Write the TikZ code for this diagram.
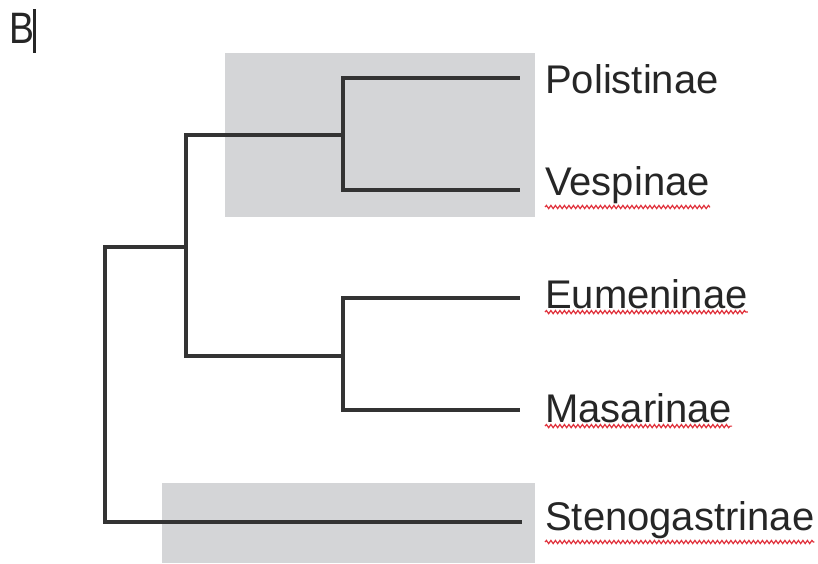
\documentclass[tikz,border=0pt]{standalone}
\usepackage{fontspec}
\setmainfont{Liberation Sans}
\usepackage{tikz}
\usetikzlibrary{positioning, calc, decorations.pathmorphing}
\definecolor{shade}{HTML}{D4D5D7}
\definecolor{branchcol}{HTML}{333333}
\definecolor{spellred}{HTML}{E0303A}

\begin{document}
\begin{tikzpicture}[x=1pt, y=-1pt,
		branch/.style={draw=branchcol, line width=3.2pt, line cap=rect, line join=miter},
		taxon/.style={anchor=base west, inner sep=0pt, font=\fontsize{40}{48}\selectfont, text=black!85},
		squiggle/.style={draw=spellred, line width=1.2pt, decorate, decoration={snake, segment length=4.5pt, amplitude=1.6pt}},
		box/.style={fill=shade, draw=none}]
			\useasboundingbox (0,0) rectangle (818,563);
			% shaded clades
			\fill[box] (225,53) rectangle (535,217);
			\fill[box] (162,483) rectangle (535,563);
			% panel letter with cursor
			\node[taxon, font=\fontsize{44}{48}\selectfont, xscale=0.85] (lblB) at (9,43) {B};
			\draw[line width=3pt, black!85] (34,9) -- (34,53);
			% branch points
			\coordinate (n0) at (105,385);
			\coordinate (n1) at (343,135);
			\coordinate (n2) at (186,247);
			\coordinate (n3) at (343,356);
			% tips
			\coordinate (tPol) at (518,78);
			\coordinate (tVes) at (518,190);
			\coordinate (tEum) at (518,298);
			\coordinate (tMas) at (518,410);
			\coordinate (tSte) at (520,522);
			% labels
			\node[taxon] (pol) at (545,93) {Polistinae};
			\node[taxon] (ves) at (545,195) {Vespinae};
			\node[taxon] (eum) at (545,308) {Eumeninae};
			\node[taxon] (mas) at (545,422) {Masarinae};
			\node[taxon] (ste) at (545,530) {Stenogastrinae};
			% tree
			\draw[branch] (tPol) -| (n1) |- (tVes);
			\draw[branch] (tEum) -| (n3) |- (tMas);
			\draw[branch] (n1) -| (n2) |- (n3);
			\draw[branch] (n2) -| (n0) |- (tSte);
			% spell check marks
			\foreach \t in {ves, eum, mas, ste}
				\draw[squiggle] ([yshift=-3.5pt]\t.south west) -- ([yshift=-3.5pt]\t.south east);
		\end{tikzpicture}
\end{document}
